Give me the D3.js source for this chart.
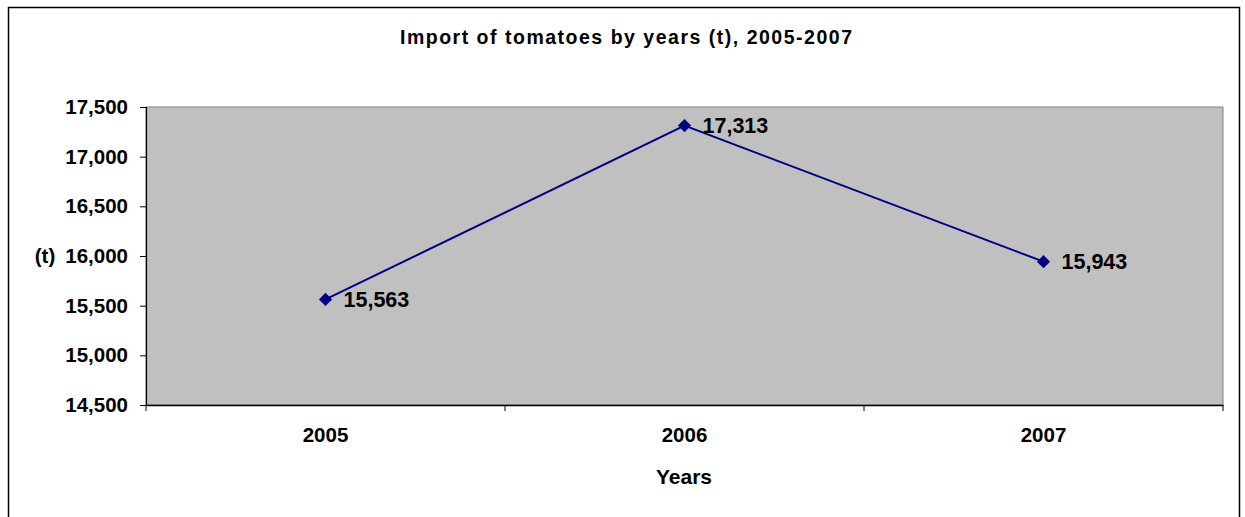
<!DOCTYPE html>
<html><head><meta charset="utf-8">
<script src="https://cdn.jsdelivr.net/npm/d3@7"></script>
<style>body{margin:0;background:#fff;}svg{display:block;font-family:"Liberation Sans",Arial,sans-serif;}</style>
</head><body>
<script>
const years = ["2005", "2006", "2007"];
const values = [15563, 17313, 15943];
const yTicks = [14500, 15000, 15500, 16000, 16500, 17000, 17500];
const title = "Import of tomatoes by years (t), 2005-2007";
const xTitle = "Years";
const yTitle = "(t)";

const W = 1245, H = 517;
const svg = d3.select("body").append("svg").attr("width", W).attr("height", H);
svg.append("rect").attr("x", 8.5).attr("y", 7.5).attr("width", 1231).attr("height", 530)
  .attr("fill", "#fff").attr("stroke", "#000").attr("stroke-width", 1.5);

const L = 146, R = 1223, T = 107, B = 405;
const x = d3.scaleBand().domain(years).range([L, R]);
const y = d3.scaleLinear().domain([14500, 17500]).range([B, T]);

svg.append("rect").attr("x", L).attr("y", T).attr("width", R - L).attr("height", B - T)
  .attr("fill", "#c0c0c0").attr("stroke", "#808080").attr("stroke-width", 1);

const yAxis = svg.append("g").attr("transform", `translate(${L},0)`)
  .call(d3.axisLeft(y).tickValues(yTicks).tickFormat(d3.format(",")).tickSize(6).tickPadding(12));
yAxis.select(".domain").attr("stroke", "#000").attr("stroke-width", 1.2);
yAxis.selectAll("text").attr("font-size", 20.5).attr("font-weight", "bold").attr("fill", "#000");

const xAxis = svg.append("g").attr("transform", `translate(0,${B})`)
  .call(d3.axisBottom(x).tickSize(0).tickPadding(22));
xAxis.select(".domain").attr("stroke", "#000").attr("stroke-width", 1.5);
xAxis.selectAll("text").attr("font-size", 20.5).attr("font-weight", "bold").attr("fill", "#000");
// tick marks between categories
const edges = years.map(d => x(d)).concat([R]);
svg.append("g").selectAll("line").data(edges).join("line")
  .attr("x1", d => d).attr("x2", d => d).attr("y1", B).attr("y2", B + 6)
  .attr("stroke", "#000").attr("stroke-width", 1);

const cx = d => x(d) + x.bandwidth() / 2;
const line = d3.line().x((d, i) => cx(years[i])).y(d => y(d));
svg.append("path").datum(values).attr("d", line).attr("fill", "none")
  .attr("stroke", "#000080").attr("stroke-width", 2);
svg.append("g").selectAll("path").data(values).join("path")
  .attr("d", d3.symbol().type(d3.symbolDiamond2).size(110))
  .attr("transform", (d, i) => `translate(${cx(years[i])},${y(d)})`)
  .attr("fill", "#000080");
svg.append("g").selectAll("text").data(values).join("text")
  .attr("x", (d, i) => cx(years[i]) + 18).attr("y", d => y(d)).attr("dy", "0.36em")
  .attr("font-size", 21.5).attr("font-weight", "bold").attr("fill", "#000")
  .text(d => d3.format(",")(d));

svg.append("text").attr("x", 626).attr("y", 44).attr("text-anchor", "middle")
  .attr("font-size", 19.5).attr("font-weight", "bold")
  .attr("textLength", 452).attr("lengthAdjust", "spacing").text(title);
svg.append("text").attr("x", 684).attr("y", 484).attr("text-anchor", "middle")
  .attr("font-size", 21).attr("font-weight", "bold").text(xTitle);
svg.append("text").attr("x", 45).attr("y", 263).attr("text-anchor", "middle")
  .attr("font-size", 20.5).attr("font-weight", "bold").text(yTitle);
</script>
</body></html>
